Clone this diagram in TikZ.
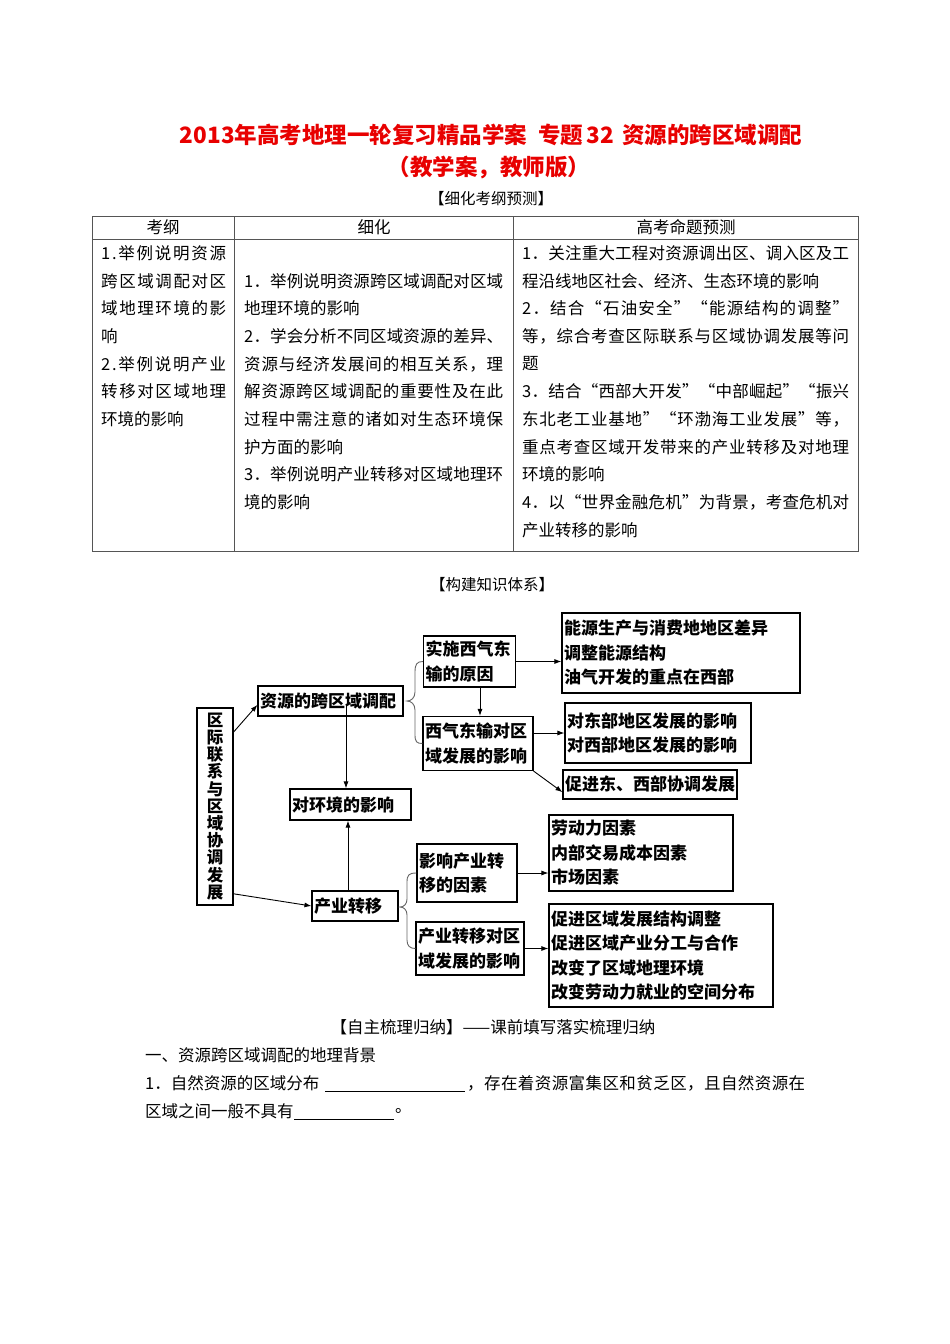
\documentclass[tikz,border=0pt]{standalone}
\usepackage{fontspec}
\setmainfont{Noto Sans CJK SC}
\usetikzlibrary{arrows.meta}
\definecolor{titlered}{RGB}{232,0,0}
\definecolor{rulegray}{RGB}{85,85,85}
\makeatletter
\newcommand\spr[2]{\hbox to #1{\let\spr@sep\relax\@tfor\spr@c:=#2\do{\spr@sep\spr@c\let\spr@sep\hfil}}}
\makeatother
\begin{document}
\begin{tikzpicture}[x=1pt,y=-1pt,
  txt/.style={inner sep=0pt, font=\fontsize{16.5}{20}\selectfont},
  ttl/.style={inner sep=0pt, text=titlered, font=\bfseries\fontsize{22.5}{26}\selectfont},
  bx/.style={draw, line width=1.1pt, inner xsep=2pt, inner ysep=0pt, align=left,
             font=\bfseries\fontsize{17}{24.5}\selectfont},
  arr/.style={-{Latex[length=7pt,width=5pt]}, line width=0.9pt},
  brace/.style={line width=0.9pt, draw=black!60}]
\useasboundingbox (0,0) rectangle (950,1344);
\fill[white] (0,0) rectangle (950,1344);

% ---- title ----
\node[ttl] (title1) at (491,135) {2013年高考地理一轮复习精品学案\hspace{6pt} 专题\hspace{3pt}32\hspace{3pt} 资源的跨区域调配};
\node[ttl] (title2) at (489,168) {（教学案，教师版）};
\node[txt, font=\fontsize{15.5}{18}\selectfont] (sec1) at (491,199) {【细化考纲预测】};

% ---- table ----
\draw[rulegray, line width=0.8pt] (92,216) rectangle (858,551);
\draw[rulegray, line width=0.8pt] (92,239) -- (858,239);
\draw[rulegray, line width=0.8pt] (234,216) -- (234,551);
\draw[rulegray, line width=0.8pt] (513,216) -- (513,551);
\node[txt] (h1) at (163,227) {考纲};
\node[txt] (h2) at (374,227) {细化};
\node[txt] (h3) at (686,227) {高考命题预测};

\node[txt, anchor=west] (a1) at (101,253) {\spr{125pt}{1.举例说明资源}};
\node[txt, anchor=west] (a2) at (101,281) {\spr{125pt}{跨区域调配对区}};
\node[txt, anchor=west] (a3) at (101,308) {\spr{125pt}{域地理环境的影}};
\node[txt, anchor=west] (a4) at (101,336) {响};
\node[txt, anchor=west] (a5) at (101,364) {\spr{125pt}{2.举例说明产业}};
\node[txt, anchor=west] (a6) at (101,391) {\spr{125pt}{转移对区域地理}};
\node[txt, anchor=west] (a7) at (101,419) {环境的影响};

\node[txt, anchor=west] (b1) at (244,281) {\spr{259pt}{1．举例说明资源跨区域调配对区域}};
\node[txt, anchor=west] (b2) at (244,308) {地理环境的影响};
\node[txt, anchor=west] (b3) at (244,336) {\spr{259pt}{2．学会分析不同区域资源的差异、}};
\node[txt, anchor=west] (b4) at (244,364) {\spr{259pt}{资源与经济发展间的相互关系，理}};
\node[txt, anchor=west] (b5) at (244,391) {\spr{259pt}{解资源跨区域调配的重要性及在此}};
\node[txt, anchor=west] (b6) at (244,419) {\spr{259pt}{过程中需注意的诸如对生态环境保}};
\node[txt, anchor=west] (b7) at (244,447) {护方面的影响};
\node[txt, anchor=west] (b8) at (244,474) {\spr{259pt}{3．举例说明产业转移对区域地理环}};
\node[txt, anchor=west] (b9) at (244,502) {境的影响};

\node[txt, anchor=west] (c1) at (522,253) {\spr{327pt}{1．关注重大工程对资源调出区、调入区及工}};
\node[txt, anchor=west] (c2) at (522,281) {程沿线地区社会、经济、生态环境的影响};
\node[txt, anchor=west] (c3) at (522,308) {\spr{327pt}{2．结合“石油安全”“能源结构的调整”}};
\node[txt, anchor=west] (c4) at (522,336) {\spr{327pt}{等，综合考查区际联系与区域协调发展等问}};
\node[txt, anchor=west] (c5) at (522,364) {题};
\node[txt, anchor=west] (c6) at (522,391) {\spr{327pt}{3．结合“西部大开发”“中部崛起”“振兴}};
\node[txt, anchor=west] (c7) at (522,419) {\spr{327pt}{东北老工业基地”“环渤海工业发展”等，}};
\node[txt, anchor=west] (c8) at (522,447) {\spr{327pt}{重点考查区域开发带来的产业转移及对地理}};
\node[txt, anchor=west] (c9) at (522,474) {环境的影响};
\node[txt, anchor=west] (c10) at (522,502) {\spr{327pt}{4．以“世界金融危机”为背景，考查危机对}};
\node[txt, anchor=west] (c11) at (522,530) {产业转移的影响};

% ---- knowledge diagram ----
\node[txt, font=\fontsize{15.5}{18}\selectfont] (sec2) at (492,585) {【构建知识体系】};

\node[bx, align=center, minimum width=36pt, minimum height=197pt, inner xsep=0pt,
      font=\bfseries\fontsize{16.5}{17.2}\selectfont] (vb) at (215,806.5)
      {区\\际\\联\\系\\与\\区\\域\\协\\调\\发\\展};
\node[bx, minimum width=145pt, minimum height=30pt, text width=141pt] (zy) at (330.5,701) {资源的跨区域调配};
\node[bx, minimum width=92pt, minimum height=51pt, text width=88pt] (ss) at (469.5,661.5) {实施西气东\\输的原因};
\node[bx, minimum width=110pt, minimum height=54pt, text width=106pt] (xq) at (478,743.5) {西气东输对区\\域发展的影响};
\node[bx, minimum width=121pt, minimum height=31pt, text width=117pt] (hj) at (350.5,804.5) {对环境的影响};
\node[bx, minimum width=238pt, minimum height=80pt, text width=234pt] (ny) at (681,653) {能源生产与消费地地区差异\\调整能源结构\\油气开发的重点在西部};
\node[bx, minimum width=186pt, minimum height=60pt, text width=182pt] (db) at (658,733) {对东部地区发展的影响\\对西部地区发展的影响};
\node[bx, minimum width=174pt, minimum height=29pt, text width=170pt] (cx) at (650,784.5) {促进东、西部协调发展};
\node[bx, minimum width=86pt, minimum height=30pt, text width=82pt] (cy) at (355,906) {产业转移};
\node[bx, minimum width=100pt, minimum height=58pt, text width=96pt] (ys) at (467,873) {影响产业转\\移的因素};
\node[bx, minimum width=108pt, minimum height=53pt, text width=104pt] (cj) at (470,948.5) {产业转移对区\\域发展的影响};
\node[bx, minimum width=184pt, minimum height=76pt, text width=180pt] (ld) at (641,853) {劳动力因素\\内部交易成本因素\\市场因素};
\node[bx, minimum width=224pt, minimum height=103pt, text width=220pt] (cq) at (661,955.5) {促进区域发展结构调整\\促进区域产业分工与合作\\改变了区域地理环境\\改变劳动力就业的空间分布};

% connectors
\draw[arr] (vb.76) -- (zy.183);
\draw[arr] (vb.282) -- (cy.west);
\coordinate (zyin) at (346,704);
\draw[arr] (zyin) -- (zyin |- hj.north);
\draw[arr] ([xshift=-7pt]cy.north) -- ([xshift=-7pt]cy.north |- hj.south);
\draw[arr] ([xshift=2pt]xq.north |- ss.south) -- ([xshift=2pt]xq.north);
\draw[arr] (ss.east) -- (ss.east -| ny.west);
\draw[arr] (xq.east |- db.west) -- (db.west);
\draw[arr] (xq.south east) -- (cx.185);
\draw[arr] (ys.east) -- (ys.east -| ld.west);
\draw[arr] (cj.east) -- (cj.east -| cq.west);

% braces
\coordinate (br1) at (407,701);
\draw[brace] (ss.west) .. controls (417,661.5) and (415,664) .. (415,672) -- (415,692)
  .. controls (415,698) and (411,701) .. (br1)
  .. controls (411,701) and (415,704) .. (415,710) -- (415,735)
  .. controls (415,742) and (417,743.5) .. (xq.west);
\coordinate (br2) at (400,907);
\draw[brace] (ys.west) .. controls (409,873) and (407,875) .. (407,882) -- (407,899)
  .. controls (407,904) and (404,907) .. (br2)
  .. controls (404,907) and (407,910) .. (407,915) -- (407,940)
  .. controls (407,946) and (410,948.5) .. (cj.west);

% ---- bottom text ----
\node[txt] (sec3) at (493,1027) {【自主梳理归纳】——课前填写落实梳理归纳};
\node[txt, anchor=west] (d1) at (145,1055) {一、资源跨区域调配的地理背景};
\node[txt, anchor=west] (d2) at (145,1083) {1．自然资源的区域分布};
\node[txt, anchor=west] (d3) at (467,1083) {\spr{338pt}{，存在着资源富集区和贫乏区，且自然资源在}};
\node[txt, anchor=west] (d4) at (145,1111) {区域之间一般不具有};
\node[txt, anchor=west] (d5) at (395,1111) {。};
\draw[line width=0.8pt] (325,1091) -- (465,1091);
\draw[line width=0.8pt] (294,1119) -- (394,1119);
\end{tikzpicture}
\end{document}
